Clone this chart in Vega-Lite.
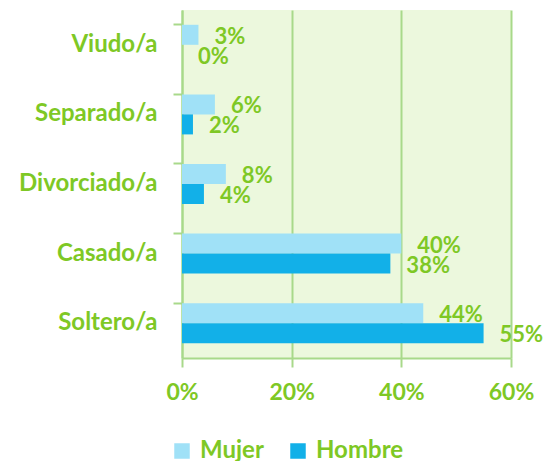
{
  "$schema": "https://vega.github.io/schema/vega-lite/v6.json",
  "width": 329,
  "height": 348,
  "autosize": {"type": "none"},
  "padding": {"left": 182, "top": 10, "right": 40, "bottom": 103},
  "background": "white",
  "config": {
    "font": "Lato",
    "view": {"fill": "#ecf8dd", "stroke": null}
  },
  "data": {
    "values": [
      {"estado": "Viudo/a", "sexo": "Mujer", "valor": 0.03},
      {"estado": "Viudo/a", "sexo": "Hombre", "valor": 0.0},
      {"estado": "Separado/a", "sexo": "Mujer", "valor": 0.06},
      {"estado": "Separado/a", "sexo": "Hombre", "valor": 0.02},
      {"estado": "Divorciado/a", "sexo": "Mujer", "valor": 0.08},
      {"estado": "Divorciado/a", "sexo": "Hombre", "valor": 0.04},
      {"estado": "Casado/a", "sexo": "Mujer", "valor": 0.40},
      {"estado": "Casado/a", "sexo": "Hombre", "valor": 0.38},
      {"estado": "Soltero/a", "sexo": "Mujer", "valor": 0.44},
      {"estado": "Soltero/a", "sexo": "Hombre", "valor": 0.55}
    ]
  },
  "encoding": {
    "y": {
      "field": "estado",
      "type": "nominal",
      "sort": ["Viudo/a", "Separado/a", "Divorciado/a", "Casado/a", "Soltero/a"],
      "scale": {"paddingInner": 0.425, "paddingOuter": 0.2125},
      "axis": {
        "title": null,
        "bandPosition": 0,
        "domainColor": "#a8d98a",
        "domainWidth": 2,
        "tickColor": "#a8d98a",
        "tickWidth": 2,
        "tickSize": 9,
        "labelFontSize": 24,
        "labelFontWeight": "bold",
        "labelColor": "#7ec825",
        "labelPadding": 16,
        "grid": false
      }
    },
    "yOffset": {
      "field": "sexo",
      "type": "nominal",
      "sort": ["Mujer", "Hombre"],
      "scale": {"paddingInner": 0, "paddingOuter": 0}
    },
    "x": {
      "field": "valor",
      "type": "quantitative",
      "scale": {"domain": [0, 0.6], "nice": false},
      "axis": {
        "title": null,
        "values": [0, 0.2, 0.4, 0.6],
        "format": ".0%",
        "grid": true,
        "gridColor": "#a8d98a",
        "gridWidth": 2,
        "domainColor": "#a8d98a",
        "domainWidth": 2,
        "tickColor": "#a8d98a",
        "tickWidth": 2,
        "tickSize": 9,
        "labelFlush": false,
        "labelFontSize": 23,
        "labelFontWeight": "bold",
        "labelColor": "#7ec825",
        "labelPadding": 14
      }
    }
  },
  "layer": [
    {
      "mark": {"type": "bar"},
      "encoding": {
        "color": {
          "field": "sexo",
          "type": "nominal",
          "sort": ["Mujer", "Hombre"],
          "scale": {"domain": ["Mujer", "Hombre"], "range": ["#a0e1f7", "#12b0e8"]},
          "legend": {
            "title": null,
            "orient": "none",
            "legendX": -12,
            "legendY": 429,
            "direction": "horizontal",
            "symbolType": "square",
            "symbolSize": 240,
            "symbolStrokeWidth": 0,
            "labelFontSize": 24,
            "labelFontWeight": "bold",
            "labelColor": "#7ec825",
            "labelOffset": 6,
            "columnPadding": 22
          }
        }
      }
    },
    {
      "mark": {"type": "text", "align": "left", "baseline": "middle", "dx": 16, "dy": 2, "fontSize": 22, "fontWeight": "bold", "color": "#7ec825"},
      "encoding": {
        "text": {"field": "valor", "type": "quantitative", "format": ".0%"}
      }
    }
  ]
}
